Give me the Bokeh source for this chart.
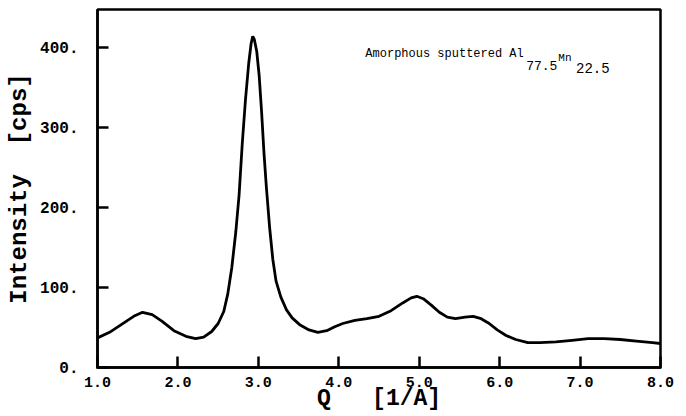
from bokeh.plotting import figure
from bokeh.models import FixedTicker, Range1d, Label
from bokeh.embed import file_html
from bokeh.resources import INLINE

# Data
q = [1.0, 1.15, 1.3, 1.45, 1.56, 1.68, 1.8, 1.95, 2.1, 2.22, 2.32, 2.42, 2.5, 2.57,
     2.62, 2.67, 2.72, 2.76, 2.8, 2.84, 2.88, 2.91, 2.93, 2.95, 2.98, 3.01, 3.04,
     3.07, 3.1, 3.14, 3.18, 3.22, 3.28, 3.35, 3.42, 3.52, 3.63, 3.74, 3.85, 3.95,
     4.05, 4.2, 4.35, 4.5, 4.65, 4.8, 4.9, 4.97, 5.05, 5.15, 5.25, 5.35, 5.45, 5.57,
     5.67, 5.77, 5.87, 5.97, 6.08, 6.2, 6.35, 6.5, 6.7, 6.9, 7.1, 7.3, 7.5, 7.7,
     7.9, 8.0]
intensity = [37, 44, 54, 64, 69, 66, 58, 46, 39, 36, 38, 45, 55, 70,
             92, 125, 170, 215, 280, 335, 380, 405, 414, 410, 395, 365, 320,
             268, 225, 175, 135, 108, 88, 72, 62, 53, 47, 44, 46, 51,
             55, 59, 61, 64, 71, 81, 87, 89, 86, 78, 69, 63, 61, 63,
             64, 61, 55, 47, 40, 35, 31, 31, 32, 34, 36, 36, 35, 33,
             31, 30]

x_ticks = [1, 2, 3, 4, 5, 6, 7, 8]
x_tick_labels = ["1.0", "2.0", "3.0", "4.0", "5.0", "6.0", "7.0", "8.0"]
y_ticks = [0, 100, 200, 300, 400]
y_tick_labels = ["0.", "100.", "200.", "300.", "400."]

title_parts = ["Amorphous sputtered Al", "77.5", "Mn", "22.5"]

MONO = "Liberation Mono"
X0, X1, Y0, Y1 = 1.0, 8.0, 0.0, 447.5
NB = "\u00a0"

p = figure(width=686, height=416, output_backend="svg", toolbar_location=None,
           x_range=Range1d(X0, X1), y_range=Range1d(Y0, Y1),
           min_border_left=97, min_border_right=26, min_border_top=9,
           min_border_bottom=49)

p.line(q, intensity, line_color="black", line_width=2.8)

p.xgrid.visible = False
p.ygrid.visible = False
p.outline_line_color = "black"
p.outline_line_width = 2.5

for ax in (p.xaxis[0], p.yaxis[0]):
    ax.axis_line_width = 2.5
    ax.axis_line_color = "black"
    ax.major_tick_in = 11
    ax.major_tick_out = 1
    ax.major_tick_line_color = "black"
    ax.major_tick_line_width = 2.5
    ax.minor_tick_line_color = None
    ax.major_label_text_font = MONO
    ax.major_label_text_font_style = "bold"
    ax.major_label_text_color = "black"
    ax.axis_label_text_font = MONO
    ax.axis_label_text_font_style = "bold"
    ax.axis_label_text_color = "black"

p.xaxis.ticker = FixedTicker(ticks=x_ticks)
p.xaxis.major_label_overrides = {t: l for t, l in zip(x_ticks, x_tick_labels)}
p.xaxis.major_label_text_font_size = "15px"
p.xaxis.major_label_standoff = 8
p.xaxis.axis_label = "Q" + NB * 3 + "[1/A]"
p.xaxis.axis_label_text_font_size = "23px"
p.xaxis.axis_label_standoff = -4

p.yaxis.ticker = FixedTicker(ticks=y_ticks)
p.yaxis.major_label_overrides = {t: l for t, l in zip(y_ticks, y_tick_labels)}
p.yaxis.major_label_text_font_size = "16px"
p.yaxis.major_label_standoff = 18
p.yaxis.axis_label = "Intensity" + NB * 2 + "[cps]"
p.yaxis.axis_label_text_font_size = "24px"
p.yaxis.axis_label_standoff = 4

# Composition annotation (sub/superscripts as separate labels)
common = dict(text_font=MONO, text_color="black", text_baseline="alphabetic")
p.add_layout(Label(x=4.33, y=392.5, text=title_parts[0], text_font_size="12px", **common))
p.add_layout(Label(x=6.33, y=377.5, text=title_parts[1], text_font_size="13px", **common))
p.add_layout(Label(x=6.73, y=387, text=title_parts[2], text_font_size="11px", **common))
p.add_layout(Label(x=6.95, y=375, text=title_parts[3], text_font_size="14px", **common))

open("out.html", "w").write(file_html(p, INLINE))
